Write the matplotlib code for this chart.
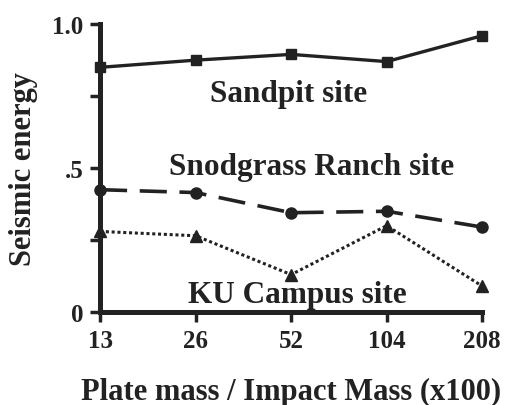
import numpy as np
import matplotlib.pyplot as plt

plt.rcParams['font.family'] = ['Liberation Serif', 'DejaVu Serif']
plt.rcParams['font.weight'] = 'bold'

masses = ['13', '26', '52', '104', '208']
sandpit = [0.85, 0.875, 0.895, 0.87, 0.96]
snodgrass = [0.425, 0.415, 0.345, 0.35, 0.295]
ku_campus = [0.28, 0.265, 0.13, 0.30, 0.09]

ink = '#222222'
x = np.arange(len(masses))

fig = plt.figure(figsize=(5.13, 4.06), dpi=100)
ax = fig.add_axes([0.195, 0.229, 0.745, 0.709])

ax.plot(x, sandpit, color=ink, lw=2.4, ls='-', marker='s', ms=7, clip_on=False)
ax.plot(x, snodgrass, color=ink, lw=2.6, ls=(0, (7.5, 3.5)), marker='o', ms=8, clip_on=False)
ax.plot(x, ku_campus, color=ink, lw=2.2, ls=(0, (1, 0.9)), marker='^', ms=8, clip_on=False)

ax.text(1.97, 0.733, 'Sandpit site', fontsize=22.5, fontweight='bold', ha='center', va='baseline', color=ink)
ax.text(2.21, 0.479, 'Snodgrass Ranch site', fontsize=22.5, fontweight='bold', ha='center', va='baseline', color=ink)
ax.text(2.06, 0.035, 'KU Campus site', fontsize=22.5, fontweight='bold', ha='center', va='baseline', color=ink)

ax.set_xlim(0, 4)
ax.set_ylim(0, 1.0)
ax.set_xticks(x)
ax.set_xticklabels(masses)
ax.set_yticks([0, 0.25, 0.5, 0.75, 1.0])
ax.set_yticklabels(['0', '', '.5', '', '1.0'])

for s in ['top', 'right']:
    ax.spines[s].set_visible(False)
for s in ['left', 'bottom']:
    ax.spines[s].set_linewidth(3.6)
    ax.spines[s].set_color(ink)
ax.tick_params(width=2.5, length=7, color=ink, labelsize=18, labelcolor=ink, pad=5)

ax.set_ylabel('Seismic energy', fontsize=22, fontweight='bold', color=ink, labelpad=10)
ax.set_xlabel('Plate mass / Impact Mass (x100)', fontsize=22, fontweight='bold', color=ink, labelpad=18)

fig.savefig('out.png', dpi=100)
